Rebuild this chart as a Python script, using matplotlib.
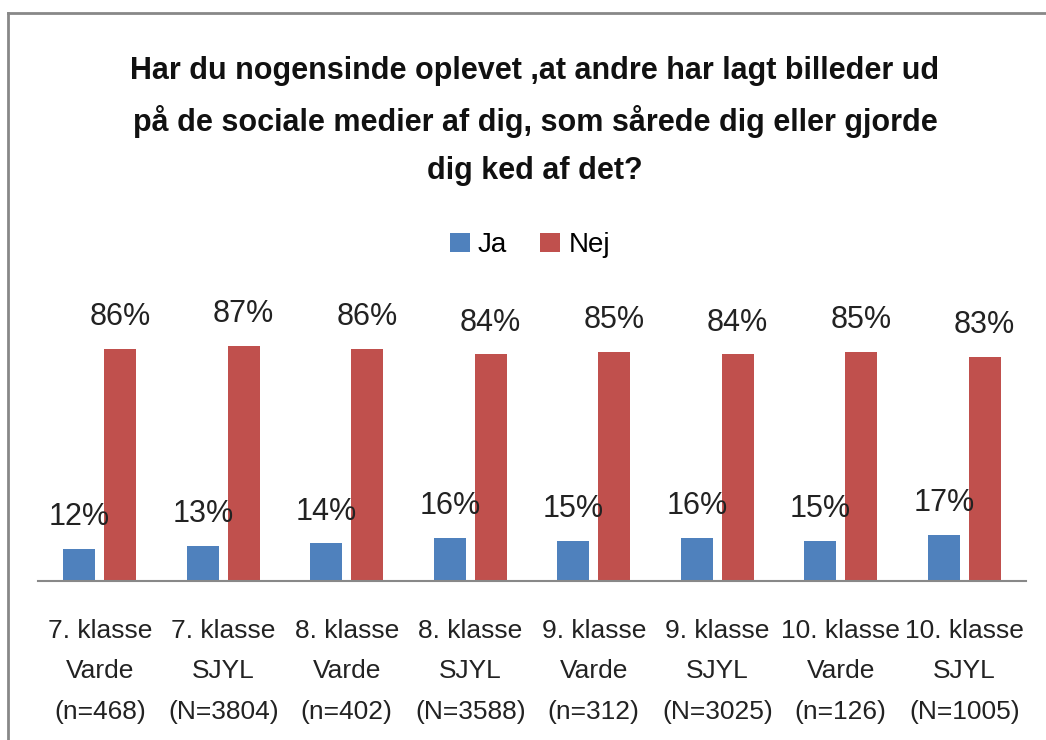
import matplotlib
matplotlib.use('Agg')
from matplotlib import pyplot as plt
from matplotlib.lines import Line2D
import numpy as np

# data
categories = ['7. klasse\nVarde\n(n=468)', '7. klasse\nSJYL\n(N=3804)',
              '8. klasse\nVarde\n(n=402)', '8. klasse\nSJYL\n(N=3588)',
              '9. klasse\nVarde\n(n=312)', '9. klasse\nSJYL\n(N=3025)',
              '10. klasse\nVarde\n(n=126)', '10. klasse\nSJYL\n(N=1005)']
ja = [12, 13, 14, 16, 15, 16, 15, 17]
nej = [86, 87, 86, 84, 85, 84, 85, 83]
title = ('Har du nogensinde oplevet ,at andre har lagt billeder ud\n'
         'på de sociale medier af dig, som sårede dig eller gjorde\n'
         'dig ked af det?')

plt.rcParams['font.family'] = ['Liberation Sans', 'DejaVu Sans']

fig = plt.figure(figsize=(10.46, 7.4), dpi=100)
ax = fig.add_axes([38 / 1046, 1 - 581 / 740, (1026 - 38) / 1046, 270 / 740])

x = np.arange(len(categories))
w = 0.26
b1 = ax.bar(x - 0.165, np.array(ja) / 100, w, color='#4F81BD', label='Ja')
b2 = ax.bar(x + 0.165, np.array(nej) / 100, w, color='#C0504D', label='Nej')

for bars, vals in ((b1, ja), (b2, nej)):
    for r, v in zip(bars, vals):
        ax.annotate('%d%%' % v, (r.get_x() + r.get_width() / 2, r.get_height()),
                    xytext=(0, 17), textcoords='offset points',
                    ha='center', va='baseline', fontsize=22, color='#222222')

ax.set_xlim(-0.5, len(categories) - 0.5)
ax.set_ylim(0, 1)
ax.set_yticks([])
ax.set_xticks(x)
ax.set_xticklabels(categories, fontsize=19, linespacing=1.88, color='#222222')
ax.tick_params(axis='x', length=0, pad=27)
for s in ['top', 'right', 'left']:
    ax.spines[s].set_visible(False)
ax.spines['bottom'].set_color('#888888')
ax.spines['bottom'].set_linewidth(1.5)

fig.text(535 / 1046, 1 - 56 / 740, title, ha='center', va='top',
         fontsize=22, fontweight='bold', linespacing=1.75, color='#111111')

fig.legend(handles=[b1, b2], labels=['Ja', 'Nej'], loc='center',
           bbox_to_anchor=(530 / 1046, 1 - 245 / 740), ncol=2, frameon=False,
           fontsize=20, handlelength=0.7, handleheight=0.7,
           handletextpad=0.3, columnspacing=1.2)

# outer chart frame (only left and top edges are inside the picture)
fig.add_artist(Line2D([8 / 1046, 8 / 1046], [0, 1 - 13 / 740],
                      transform=fig.transFigure, color='#888888', lw=2))
fig.add_artist(Line2D([8 / 1046, 1], [1 - 13 / 740, 1 - 13 / 740],
                      transform=fig.transFigure, color='#888888', lw=2))

fig.savefig('out.png', dpi=100)
